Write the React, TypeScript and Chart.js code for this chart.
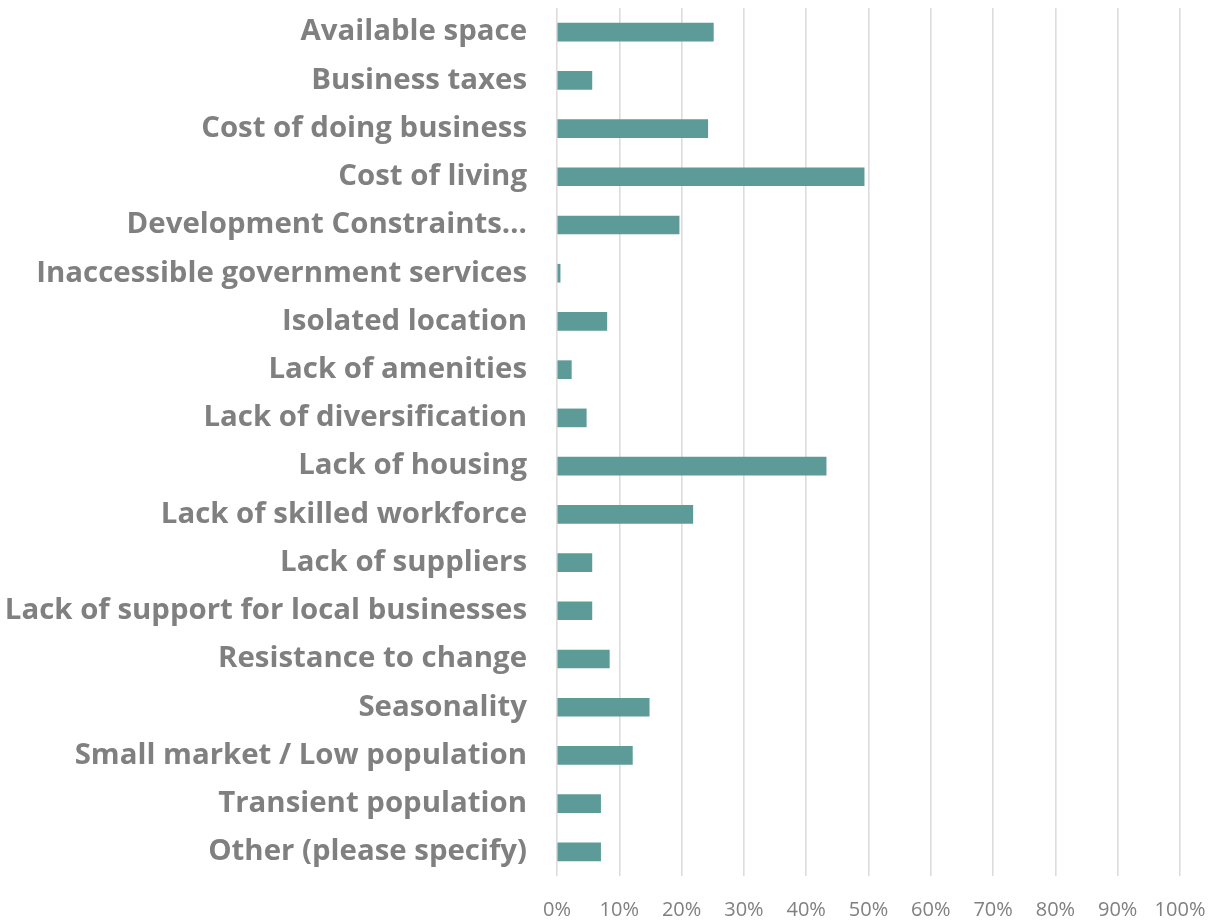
import React, { useEffect, useRef } from "react";
import { Chart, registerables } from "chart.js";

Chart.register(...registerables);

const categories = [
  "Available space",
  "Business taxes",
  "Cost of doing business",
  "Cost of living",
  "Development Constraints…",
  "Inaccessible government services",
  "Isolated location",
  "Lack of amenities",
  "Lack of diversification",
  "Lack of housing",
  "Lack of skilled workforce",
  "Lack of suppliers",
  "Lack of support for local businesses",
  "Resistance to change",
  "Seasonality",
  "Small market / Low population",
  "Transient population",
  "Other (please specify)",
];

const values = [25.1, 5.6, 24.2, 49.3, 19.6, 0.5, 8.0, 2.3, 4.7, 43.2, 21.8, 5.6, 5.6, 8.4, 14.8, 12.1, 7.0, 7.0];

const xTicks = [0, 10, 20, 30, 40, 50, 60, 70, 80, 90, 100];

export default function App() {
  const ref = useRef<HTMLCanvasElement | null>(null);
  useEffect(() => {
    document.body.style.margin = "0";
    const ctx = ref.current!.getContext("2d")!;
    const chart = new Chart(ctx, {
      type: "bar",
      data: {
        labels: categories,
        datasets: [
          {
            data: values,
            backgroundColor: "#5d9b98",
            borderWidth: 0,
            barThickness: 18,
          },
        ],
      },
      options: {
        indexAxis: "y",
        animation: false,
        responsive: false,
        maintainAspectRatio: false,
        layout: { padding: { top: 8, right: 34, left: 0, bottom: 0 } },
        plugins: { legend: { display: false }, tooltip: { enabled: false } },
        scales: {
          x: {
            min: 0,
            max: 100,
            afterBuildTicks: (scale: any) => {
              scale.ticks = xTicks.map((v) => ({ value: v }));
            },
            afterFit: (scale: any) => {
              scale.height = 44;
              scale.paddingLeft = 0;
              scale.paddingRight = 0;
            },
            ticks: {
              callback: (v: any) => v + "%",
              color: "#808080",
              font: { family: "Open Sans", size: 20 },
              padding: 22,
              maxRotation: 0,
              autoSkip: false,
            },
            grid: { color: "#dcdcdc", lineWidth: 1.6, drawTicks: false },
            border: { display: false },
          },
          y: {
            afterFit: (scale: any) => {
              scale.width = 557;
              scale.paddingTop = 0;
              scale.paddingBottom = 0;
            },
            ticks: {
              color: "#808080",
              font: { family: "Open Sans", size: 29.4, weight: "bold" },
              padding: 30,
              autoSkip: false,
            },
            grid: { display: false, drawTicks: false },
            border: { display: false },
          },
        },
      },
    });
    return () => chart.destroy();
  }, []);
  return (
    <div style={{ width: 1214, height: 920, position: "relative" }}>
      <canvas ref={ref} width={1214} height={920} />
    </div>
  );
}
